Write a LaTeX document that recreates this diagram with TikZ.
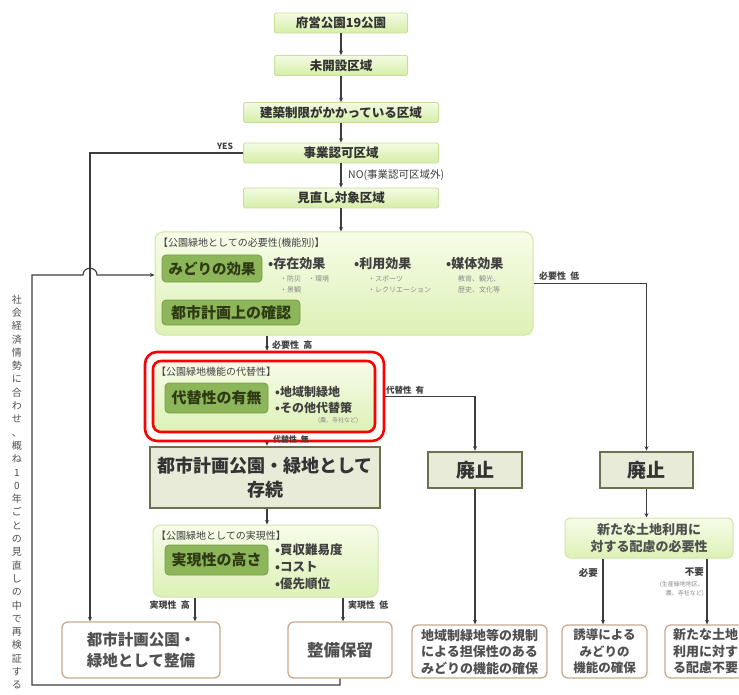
\documentclass[tikz,border=0pt]{standalone}
\usepackage{fontspec}
\setmainfont{Noto Sans CJK JP}
\usetikzlibrary{arrows.meta}
\newcommand\myfs[2]{\fontsize{#1}{#2}\selectfont}
\definecolor{lineC}{HTML}{3C3C3C}
\definecolor{chainB}{HTML}{C6E09C}
\definecolor{chainT}{HTML}{F3FBE2}
\definecolor{chainBot}{HTML}{D6EEA8}
\definecolor{panelB}{HTML}{CFE6A8}
\definecolor{panelT}{HTML}{F7FCE8}
\definecolor{panelBot}{HTML}{DDF1B6}
\definecolor{darkF}{HTML}{8DB55A}
\definecolor{darkB}{HTML}{76A046}
\definecolor{darkT}{HTML}{2E3A14}
\definecolor{oliveB}{HTML}{6B7050}
\definecolor{oliveF}{HTML}{E8EBD8}
\definecolor{endB}{HTML}{C9AA8C}
\definecolor{txtG}{HTML}{505050}
\definecolor{smallG}{HTML}{8A8A8A}
\tikzset{
  chain/.style={rectangle, rounded corners=1.5pt, draw=chainB, line width=0.8pt, top color=chainT, bottom color=chainBot, minimum height=20pt, inner sep=0pt, font=\bfseries\myfs{12.5}{14}, text=black!80},
  panel/.style={rectangle, rounded corners=8pt, draw=panelB, line width=1pt, top color=panelT, bottom color=panelBot, inner sep=0pt},
  darkbox/.style={rectangle, rounded corners=4pt, fill=darkF, draw=darkB, line width=0.8pt, inner sep=0pt, text=darkT, font=\bfseries\myfs{14.5}{17}},
  olivebox/.style={rectangle, draw=oliveB, line width=2.6pt, fill=oliveF, inner sep=0pt, font=\bfseries\myfs{18}{24}, text=black!80, align=center},
  endbox/.style={rectangle, rounded corners=6pt, draw=endB, line width=1.3pt, fill=white, inner sep=0pt, align=center},
  ln/.style={draw=lineC, line width=1.1pt},
  arr/.style={ln, -{Stealth[length=4.5pt,width=4pt]}},
  lbl/.style={inner sep=0pt, font=\bfseries\myfs{9}{10}, text=black!75},
  hdr/.style={inner sep=0pt, anchor=west, font=\myfs{10}{11}, text=black!75},
  bul/.style={inner sep=0pt, anchor=west, font=\bfseries\myfs{12}{14}, text=black!75},
  sml/.style={inner sep=0pt, anchor=west, font=\myfs{7}{8}, text=smallG},
}
\begin{document}
\begin{tikzpicture}[x=1pt,y=-1pt]
\useasboundingbox[fill=white] (0,0) rectangle (739,695);

% coordinates
\coordinate (cx) at (267,0);
\coordinate (yx) at (90,0);
\coordinate (rx1) at (195,0);
\coordinate (rx2) at (343,0);
\coordinate (loopbl) at (32,685);
\coordinate (looptl) at (32,275);
\coordinate (jA) at (83,275);
\coordinate (jB) at (97,275);

% top chain
\node[chain, minimum width=133pt] (b1) at (341,23) {府営公園19公園};
\node[chain, minimum width=133pt] (b2) at (341,65.5) {未開設区域};
\node[chain, minimum width=195pt] (b3) at (341,112.5) {建築制限がかかっている区域};
\node[chain, minimum width=195pt] (b4) at (341,153) {事業認可区域};
\node[chain, minimum width=195pt] (b5) at (341,198) {見直し対象区域};

\draw[arr] (b1) -- (b2);
\draw[arr] (b2) -- (b3);
\draw[arr] (b3) -- (b4);
\draw[arr] (b4) -- (b5);
\node[lbl, font=\bfseries\itshape\myfs{8.5}{9}] (yes) at (225,146) {YES};
\node[lbl, anchor=west, font=\itshape\myfs{10.5}{12}] (no) at (348,175) {NO(事業認可区域外)};

% necessity panel
\node[panel, minimum width=378pt, minimum height=103pt] (need) at (344,283.5) {};
\draw[arr] (b5) -- (need.north -| b5);
\node[hdr] (needh) at (158,243) {【公園緑地としての必要性(機能別)】};
\node[darkbox, minimum width=100pt, minimum height=27pt] (midori) at (212,268.5) {みどりの効果};
\node[darkbox, minimum width=138pt, minimum height=25pt, font=\bfseries\myfs{15}{17}] (toshi) at (231,312.5) {都市計画上の確認};
\node[bul, font=\bfseries\myfs{13}{15}] (e1) at (268,264) {•存在効果};
\node[sml] (e1a) at (280,279) {・防災　・環境};
\node[sml] (e1b) at (280,290) {・景観};
\node[bul, font=\bfseries\myfs{13}{15}] (e2) at (354,264) {•利用効果};
\node[sml] (e2a) at (368,279) {・スポーツ};
\node[sml] (e2b) at (368,290) {・レクリエーション};
\node[bul, font=\bfseries\myfs{13}{15}] (e3) at (446,264) {•媒体効果};
\node[sml] (e3a) at (458,279) {教育、観光、};
\node[sml] (e3b) at (458,290) {歴史、文化等};

% alternative panel
\node[panel, draw=red, line width=2.6pt, rounded corners=8pt, minimum width=222pt, minimum height=71pt] (alt) at (264,396.5) {};
\node[rectangle, draw=red, line width=2.6pt, rounded corners=12pt, minimum width=239pt, minimum height=89pt, inner sep=0pt] (altred) at (264.5,396.5) {};
\node[hdr] (alth) at (156,372) {【公園緑地機能の代替性】};
\node[darkbox, minimum width=103pt, minimum height=30pt, font=\bfseries\myfs{15}{17}] (daitai) at (216.5,398) {代替性の有無};
\node[bul] (a1) at (275,392) {•地域制緑地};
\node[bul] (a2) at (275,408) {•その他代替策};
\node[sml, font=\myfs{6}{7}] (a3) at (318,421) {(農、寺社など)};

\draw[arr] (need.south -| cx) -- (altred.north -| cx);
\node[lbl, anchor=west] (hi) at (272,345) {必要性\ \ 高};

% sonzoku
\node[olivebox, minimum width=230pt, minimum height=61pt] (sonz) at (265,477.5) {都市計画公園・緑地として\\存続};
\draw[arr] (altred.south -| cx) -- (sonz.north -| cx);
\node[lbl, anchor=west, font=\bfseries\myfs{8}{9}] (nashi) at (273,439) {代替性\ \ 無};

% realization panel
\node[panel, minimum width=225pt, minimum height=72pt] (real) at (265.5,561) {};
\draw[arr] (sonz.south -| cx) -- (real.north -| cx);
\node[hdr] (realh) at (156,536) {【公園緑地としての実現性】};
\node[darkbox, minimum width=103pt, minimum height=30pt, font=\bfseries\myfs{15}{17}] (jitsu) at (216.5,560) {実現性の高さ};
\node[bul, font=\bfseries\myfs{12.5}{14}] (r1) at (275,550) {•買収難易度};
\node[bul, font=\bfseries\myfs{12.5}{14}] (r2) at (275,567) {•コスト};
\node[bul, font=\bfseries\myfs{12.5}{14}] (r3) at (275,584) {•優先順位};

% bottom left boxes
\node[endbox, minimum width=158pt, minimum height=56pt, font=\bfseries\myfs{15.5}{21}, text=txtG] (dev) at (141,650) {都市計画公園・\\緑地として整備};
\node[endbox, minimum width=104pt, minimum height=56pt, font=\bfseries\myfs{16.5}{18}, text=txtG] (hold) at (340,650) {整備保留};
\draw[arr] (real.south -| rx1) -- (dev.north -| rx1);
\draw[arr] (real.south -| rx2) -- (hold.north -| rx2);
\node[lbl, anchor=east] (rhi) at (190,605) {実現性\ \ 高};
\node[lbl, anchor=west] (rlo) at (348,605) {実現性\ \ 低};

% abolish boxes
\node[olivebox, minimum width=94pt, minimum height=36pt, font=\bfseries\myfs{19}{22}] (ab1) at (475,470) {廃止};
\node[olivebox, minimum width=93pt, minimum height=36pt, font=\bfseries\myfs{19}{22}] (ab2) at (646.5,470) {廃止};
\draw[arr] (altred.east) -| (ab1.north);
\node[lbl, anchor=west, font=\bfseries\myfs{8.5}{9}] (ari) at (386,390) {代替性\ \ 有};
\draw[arr] (need.east) -| (ab2.north);
\node[lbl, anchor=west] (lo) at (539,276) {必要性\ \ 低};

% right bottom
\node[endbox, minimum width=135pt, minimum height=53pt, font=\bfseries\myfs{13}{16.5}, text=txtG] (chiiki) at (479.5,651.5) {地域制緑地等の規制\\による担保性のある\\みどりの機能の確保};
\draw[arr] (ab1.south) -- (chiiki.north -| ab1.south);

\node[panel, rounded corners=5pt, minimum width=168pt, minimum height=40pt, font=\bfseries\myfs{13}{17}, text=txtG, align=center] (newuse) at (649,538) {新たな土地利用に\\対する配慮の必要性};
\draw[arr] (ab2.south) -- (newuse.north -| ab2.south);

\node[endbox, minimum width=85pt, minimum height=53pt, font=\bfseries\myfs{12.5}{16.5}, text=txtG] (yudo) at (604.5,651.5) {誘導による\\みどりの\\機能の確保};
\node[endbox, minimum width=95pt, minimum height=53pt] (fuyo) at (712.5,651.5) {};
\node[inner sep=0pt, anchor=west, align=left, font=\bfseries\myfs{13}{16.5}, text=txtG] (fuyot) at (673,651.5) {新たな土地\\利用に対す\\る配慮不要};
\coordinate (nx1) at (603,0);
\coordinate (nx2) at (707,0);
\draw[arr] (newuse.south -| nx1) -- (yudo.north -| nx1);
\draw[arr] (newuse.south -| nx2) -- (fuyo.north -| nx2);
\node[lbl, anchor=east, font=\bfseries\myfs{9.5}{10}] (hitsuyo) at (598,573) {必要};
\node[lbl, anchor=east, font=\bfseries\myfs{9.5}{10}] (fuyol) at (704,572) {不要};
\node[inner sep=0pt, anchor=east, align=right, font=\myfs{6}{9}, text=smallG] (fuyos) at (704,589) {(生産緑地地区、\\農、寺社など)};

% YES line and review loop
\draw[arr] (b4.west) -| (dev.north -| yx);
\draw[arr] (hold.south) |- (loopbl) -- (looptl) -- (jA) .. controls (83,266) and (97,266) .. (jB) -- (need.west |- looptl);

% vertical text
\node[inner sep=0pt, align=center, font=\myfs{10}{13.3}, text=txtG] (vtext) at (17,492) {社\\会\\経\\済\\情\\勢\\に\\合\\わ\\せ\\、\\概\\ね\\1\\0\\年\\ご\\と\\の\\見\\直\\し\\の\\中\\で\\再\\検\\証\\す\\る};
\end{tikzpicture}
\end{document}
